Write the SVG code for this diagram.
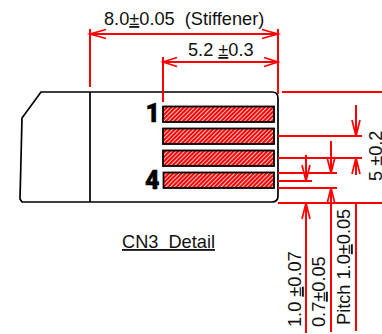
<svg xmlns="http://www.w3.org/2000/svg" width="382" height="334" viewBox="0 0 382 334">
<defs>
<pattern id="hatch" width="3" height="3" patternUnits="userSpaceOnUse" patternTransform="rotate(-45)">
<rect width="3" height="3" fill="#ff0000"/><rect width="3" height="0.8" fill="#fff"/>
</pattern>
</defs>
<style>
.r{stroke:#f00;stroke-width:2;fill:none}
.a{stroke:#f00;stroke-width:1.7;fill:none}
.k{stroke:#000;stroke-width:1.7;fill:none}
.pin{stroke:#000;stroke-width:1.8;fill:url(#hatch)}
text{font-family:"Liberation Sans",Arial,sans-serif;fill:#111;white-space:pre}
.d{font-size:18.200px}
.n{font-family:Roboto,sans-serif;font-size:25px;font-weight:900;fill:#000;stroke:#000;stroke-width:.5}
</style>
<g id="connector-body">
<path class="k" d="M41 92H272Q278 92 278 98V196Q278 202 272 202H22L20 199L22 118Z"/>
<path class="k" d="M90 92V202"/>
</g>
<g id="pins">
<rect class="pin" x="163" y="106.500" width="111" height="15.500"/>
<rect class="pin" x="163" y="128.500" width="111" height="15.500"/>
<rect class="pin" x="163" y="150.500" width="111" height="15.500"/>
<rect class="pin" x="163.500" y="172.500" width="110.500" height="15.500"/>
<text class="n" x="145.500" y="121.500">1</text>
<text class="n" x="145" y="189">4</text>
</g>
<g id="connectors">
<path class="r" d="M90 29V87M278 29V94M163 57V102M90 34H278M163 62H278"/>
<path class="a" d="M106 29.500L90 34L106 38.500M262 29.500L278 34L262 38.500M177 57.500L163 62L177 66.500M264 57.500L278 62L264 66.500"/>
<path class="r" d="M282 92H382M278 136H362M278 158H362M278 173H337M278 181H312M278 188H337M278 203H382"/>
<path class="r" d="M356 105V136M356 158V175M356 203V331M331 141V173M331 188V332M306 155V181M306 203V333"/>
<path class="a" d="M352 120L356 136L360 120M352 174L356 158L360 174M327 157L331 173L335 157M327 204L331 188L335 204M302 165L306 181L310 165M302 219L306 203L310 219"/>
</g>
<g id="labels">
<text class="d" x="104" y="25">8.0<tspan text-decoration="underline">±</tspan>0.05  (Stiffener)</text>
<text class="d" x="188" y="56">5.2 <tspan text-decoration="underline">±</tspan>0.3</text>
<text class="d" x="122" y="248" text-decoration="underline">CN3  Detail</text>
<text class="d" transform="translate(301 327) rotate(-90)">1.0 <tspan text-decoration="underline">±</tspan>0.07</text>
<text class="d" transform="translate(325 327) rotate(-90)">0.7<tspan text-decoration="underline">±</tspan>0.05</text>
<text class="d" transform="translate(350 325) rotate(-90)">Pitch 1.0<tspan text-decoration="underline">±</tspan>0.05</text>
<text class="d" transform="translate(382 181) rotate(-90)">5 <tspan text-decoration="underline">±</tspan>0.2</text>
</g>
</svg>
